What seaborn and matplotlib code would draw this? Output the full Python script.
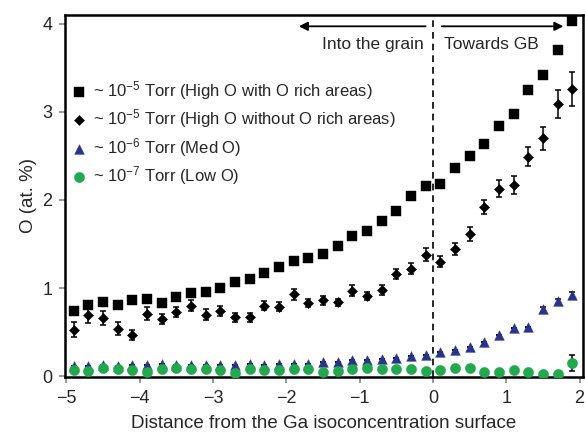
import numpy as np
import pandas as pd
import matplotlib
matplotlib.use("Agg")
import matplotlib.pyplot as plt
import seaborn as sns

# ---------------- data ----------------
distance = [-4.9, -4.7, -4.5, -4.3, -4.1, -3.9, -3.7, -3.5, -3.3, -3.1,
            -2.9, -2.7, -2.5, -2.3, -2.1, -1.9, -1.7, -1.5, -1.3, -1.1,
            -0.9, -0.7, -0.5, -0.3, -0.1, 0.1, 0.3, 0.5, 0.7, 0.9,
            1.1, 1.3, 1.5, 1.7, 1.9]

high_rich = [0.74, 0.81, 0.84, 0.81, 0.87, 0.88, 0.83, 0.90, 0.95, 0.96,
             1.00, 1.07, 1.10, 1.17, 1.24, 1.31, 1.34, 1.39, 1.48, 1.59,
             1.65, 1.76, 1.87, 2.04, 2.16, 2.18, 2.36, 2.50, 2.64, 2.84,
             2.97, 3.25, 3.42, 3.70, 4.03]

high_norich = [0.53, 0.69, 0.66, 0.54, 0.47, 0.71, 0.65, 0.73, 0.80, 0.70,
               0.74, 0.67, 0.67, 0.80, 0.79, 0.93, 0.83, 0.86, 0.84, 0.97,
               0.91, 0.98, 1.16, 1.22, 1.38, 1.30, 1.44, 1.61, 1.92, 2.13,
               2.17, 2.49, 2.70, 3.09, 3.26]
high_norich_err = [0.09, 0.09, 0.08, 0.07, 0.06, 0.07, 0.06, 0.06, 0.06, 0.06,
                   0.06, 0.05, 0.05, 0.05, 0.05, 0.06, 0.05, 0.05, 0.04, 0.06,
                   0.05, 0.06, 0.06, 0.06, 0.07, 0.06, 0.07, 0.08, 0.08, 0.10,
                   0.10, 0.11, 0.13, 0.16, 0.19]

med = [0.12, 0.12, 0.13, 0.12, 0.13, 0.13, 0.14, 0.13, 0.13, 0.13,
       0.13, 0.13, 0.14, 0.13, 0.14, 0.14, 0.14, 0.16, 0.16, 0.18,
       0.19, 0.20, 0.21, 0.23, 0.24, 0.27, 0.30, 0.33, 0.39, 0.47,
       0.55, 0.56, 0.76, 0.85, 0.92]
med_err = [0.0] * 32 + [0.03, 0.03, 0.04]

low = [0.07, 0.06, 0.09, 0.08, 0.07, 0.05, 0.08, 0.09, 0.08, 0.08,
       0.07, 0.04, 0.08, 0.07, 0.07, 0.08, 0.08, 0.05, 0.06, 0.08,
       0.09, 0.08, 0.08, 0.08, 0.06, 0.07, 0.09, 0.09, 0.05, 0.05,
       0.07, 0.05, 0.03, 0.03, 0.15]
low_err = [0.0] * 34 + [0.09]

labels = ["~ 10$^{-5}$ Torr (High O with O rich areas)",
          "~ 10$^{-5}$ Torr (High O without O rich areas)",
          "~ 10$^{-6}$ Torr (Med O)",
          "~ 10$^{-7}$ Torr (Low O)"]
x_ticks = [-5, -4, -3, -2, -1, 0, 1, 2]
y_ticks = [0, 1, 2, 3, 4]

# ---------------- style ----------------
sns.set_style("ticks")
plt.rcParams["font.family"] = ["Liberation Sans", "DejaVu Sans"]
plt.rcParams["mathtext.fontset"] = "custom"
plt.rcParams["mathtext.rm"] = "Liberation Sans"
plt.rcParams["mathtext.it"] = "Liberation Sans:italic"

fig = plt.figure(figsize=(5.85, 4.37), dpi=100)
ax = fig.add_axes([0.111, 0.137, 0.886, 0.829])

blue = "#28338f"
green = "#1faa4c"

series = [
    (high_rich, None, "s", "black", 7.6, labels[0]),
    (high_norich, high_norich_err, "D", "black", 5.2, labels[1]),
    (med, med_err, "^", blue, 7.0, labels[2]),
    (low, low_err, "o", green, 7.4, labels[3]),
]

for vals, err, mk, col, ms, lab in series:
    df = pd.DataFrame({"x": distance, "y": vals})
    if err is not None:
        ax.errorbar(df["x"], df["y"], yerr=err, fmt="none", ecolor="black",
                    elinewidth=1.1, capsize=2.5, capthick=1.1, zorder=2)
    sns.scatterplot(data=df, x="x", y="y", marker=mk, color=col,
                    s=ms ** 2, edgecolor=col, linewidth=0.3, ax=ax,
                    label=lab, zorder=3)

ax.axvline(0, color="black", linestyle=(0, (4, 3)), linewidth=1.2, zorder=1)

# arrows and annotations
ax.annotate("", xy=(-1.83, 3.97), xytext=(-0.1, 3.97),
            arrowprops=dict(arrowstyle="-|>", color="black", lw=1.3,
                            mutation_scale=13, shrinkA=0, shrinkB=0))
ax.annotate("", xy=(1.78, 3.97), xytext=(0.12, 3.97),
            arrowprops=dict(arrowstyle="-|>", color="black", lw=1.3,
                            mutation_scale=13, shrinkA=0, shrinkB=0))
ax.text(-0.13, 3.76, "Into the grain", ha="right", va="center", fontsize=12.5)
ax.text(0.15, 3.76, "Towards GB", ha="left", va="center", fontsize=12.5)

ax.set_xlim(-5.02, 2.05)
ax.set_ylim(-0.01, 4.1)
ax.set_xticks(x_ticks)
ax.set_yticks(y_ticks)
ax.tick_params(axis="both", labelsize=13, direction="out", length=4.5,
               width=1.2, color="#888888", pad=4.5)
ax.set_xlabel("Distance from the Ga isoconcentration surface", fontsize=13.5,
              labelpad=6)
ax.set_ylabel("O (at. %)", fontsize=13.5)
for sp in ax.spines.values():
    sp.set_visible(True)
    sp.set_linewidth(1.8)
    sp.set_color("black")

leg = ax.legend(loc="upper left", bbox_to_anchor=(-0.012, 0.855), frameon=False,
                fontsize=12, handletextpad=0.35, handlelength=1.0,
                labelspacing=0.33, borderaxespad=0.3)

fig.savefig("out.png", dpi=100)
